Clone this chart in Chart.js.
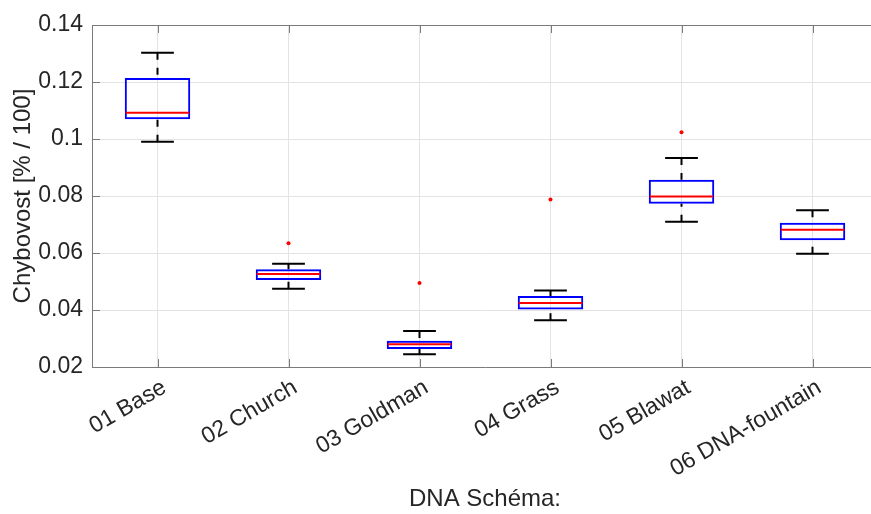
<!DOCTYPE html>
<html lang="cs">
<head>
<meta charset="UTF-8">
<title>Chybovost DNA schémat</title>
<style>
  html, body { margin: 0; padding: 0; overflow: hidden; background: #fff; }
</style>
</head>
<body>
<canvas id="chybovost" width="890" height="514"></canvas>
<script src="https://cdn.jsdelivr.net/npm/chart.js"></script>
<script>
const schemata = ['01 Base', '02 Church', '03 Goldman', '04 Grass', '05 Blawat', '06 DNA-fountain'];
const dolniFous = [0.0990, 0.0475, 0.0245, 0.0364, 0.0710, 0.0597];
const dolniKvartil = [0.1069, 0.0505, 0.0263, 0.0402, 0.0773, 0.0645];
const median = [0.1092, 0.0526, 0.0280, 0.0425, 0.0798, 0.0682];
const horniKvartil = [0.1214, 0.0543, 0.0292, 0.0449, 0.0857, 0.0706];
const horniFous = [0.1303, 0.0562, 0.0326, 0.0468, 0.0933, 0.0750];
const odlehle = [null, 0.0634, 0.0495, 0.0788, 0.1024, null];
const yTicks = [0.02, 0.04, 0.06, 0.08, 0.1, 0.12, 0.14];
const yTickLabels = ['0.02', '0.04', '0.06', '0.08', '0.1', '0.12', '0.14'];

const osa = '#7a7a7a';

// fousy, medianu a vnitrni znacky os kreslime primo pres skaly grafu
const boxplotPlugin = {
    id: 'boxplot',
    afterDatasetsDraw(chart) {
        const {ctx, chartArea, scales: {x, y}} = chart;
        const krok = x.getPixelForValue(1) - x.getPixelForValue(0);
        ctx.save();
        ctx.lineWidth = 2;

        schemata.forEach((_, i) => {
            const cx = x.getPixelForValue(i);
            const yHorni = y.getPixelForValue(horniFous[i]);
            const yDolni = y.getPixelForValue(dolniFous[i]);

            // carkovane fousy od zarazky k boxu
            ctx.strokeStyle = '#000';
            ctx.setLineDash([7, 8]);
            ctx.beginPath();
            ctx.moveTo(cx, yHorni);
            ctx.lineTo(cx, y.getPixelForValue(horniKvartil[i]));
            ctx.moveTo(cx, yDolni);
            ctx.lineTo(cx, y.getPixelForValue(dolniKvartil[i]));
            ctx.stroke();

            // zarazky
            ctx.setLineDash([]);
            ctx.beginPath();
            ctx.moveTo(cx - krok * 0.125, yHorni);
            ctx.lineTo(cx + krok * 0.125, yHorni);
            ctx.moveTo(cx - krok * 0.125, yDolni);
            ctx.lineTo(cx + krok * 0.125, yDolni);
            ctx.stroke();

            // median
            const yMed = y.getPixelForValue(median[i]);
            ctx.strokeStyle = '#ff0000';
            ctx.beginPath();
            ctx.moveTo(cx - krok * 0.25 + 1, yMed);
            ctx.lineTo(cx + krok * 0.25 - 1, yMed);
            ctx.stroke();
        });

        // horni okraj a znacky dovnitr
        ctx.strokeStyle = osa;
        ctx.lineWidth = 1;
        ctx.beginPath();
        ctx.moveTo(chartArea.left, chartArea.top + 0.5);
        ctx.lineTo(chartArea.right, chartArea.top + 0.5);
        schemata.forEach((_, i) => {
            const cx = Math.round(x.getPixelForValue(i)) + 0.5;
            ctx.moveTo(cx, chartArea.bottom);
            ctx.lineTo(cx, chartArea.bottom - 8);
            ctx.moveTo(cx, chartArea.top);
            ctx.lineTo(cx, chartArea.top + 8);
        });
        yTicks.forEach(v => {
            const py = Math.round(y.getPixelForValue(v)) + 0.5;
            ctx.moveTo(chartArea.left, py);
            ctx.lineTo(chartArea.left + 8, py);
        });
        ctx.stroke();
        ctx.restore();
    }
};

Chart.defaults.font.family = '"Liberation Sans", Arial, sans-serif';
Chart.defaults.color = '#262626';

new Chart(document.getElementById('chybovost'), {
    type: 'bar',
    data: {
        labels: schemata,
        datasets: [{
            label: 'Kvartily',
            data: schemata.map((_, i) => [dolniKvartil[i], horniKvartil[i]]),
            backgroundColor: 'rgba(0,0,0,0)',
            borderColor: '#0000ff',
            borderWidth: 2,
            borderSkipped: false,
            barPercentage: 0.5,
            categoryPercentage: 1
        }, {
            type: 'line',
            label: 'Odlehle hodnoty',
            data: odlehle,
            showLine: false,
            pointRadius: 2,
            pointBorderWidth: 0,
            pointBackgroundColor: '#ff0000',
            borderColor: '#ff0000'
        }]
    },
    options: {
        responsive: false,
        animation: false,
        layout: {padding: {top: 25, right: 12, left: 0, bottom: 0}},
        plugins: {
            legend: {display: false},
            tooltip: {enabled: false}
        },
        scales: {
            x: {
                grid: {color: '#e3e3e3', offset: false, drawTicks: false},
                border: {color: osa, width: 1},
                ticks: {
                    font: {size: 23},
                    minRotation: 30,
                    maxRotation: 30,
                    padding: 7,
                    labelOffset: 7
                },
                title: {
                    display: true,
                    text: 'DNA Schéma:',
                    font: {size: 24},
                    padding: {top: 0, bottom: 0}
                },
                afterFit: scale => { scale.height = 147; }
            },
            y: {
                min: 0.02,
                max: 0.14,
                grid: {color: '#e3e3e3', drawTicks: false},
                border: {color: osa, width: 1},
                afterBuildTicks: scale => {
                    scale.ticks = yTicks.map(v => ({value: v}));
                },
                ticks: {
                    font: {size: 23},
                    padding: 9,
                    callback: value => yTickLabels[yTicks.indexOf(value)]
                },
                title: {
                    display: true,
                    text: 'Chybovost [% / 100]',
                    font: {size: 24},
                    padding: {top: 9, bottom: 0}
                },
                afterFit: scale => { scale.width = 92; }
            }
        }
    },
    plugins: [boxplotPlugin]
});
</script>
</body>
</html>
